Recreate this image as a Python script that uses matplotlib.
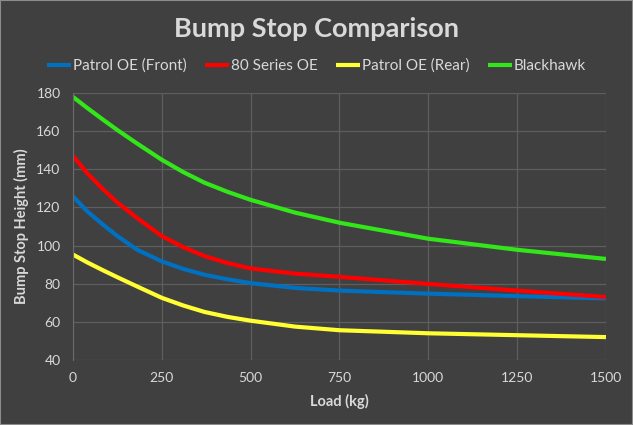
import matplotlib
matplotlib.use("Agg")
import matplotlib.pyplot as plt

# load points (kg)
load = [0, 40, 85, 125, 180, 250, 310, 370, 435, 500, 625, 750, 1000, 1250, 1500]

patrol_front = [125.8, 118.0, 110.9, 105.0, 97.9, 91.7, 87.8, 84.7, 82.3, 80.3, 77.8, 76.4, 74.8, 73.5, 72.3]
series_80    = [147.0, 138.0, 129.5, 122.6, 114.5, 105.0, 99.2, 94.5, 90.8, 88.0, 85.3, 83.6, 79.9, 76.4, 73.0]
patrol_rear  = [95.3, 91.2, 87.0, 83.4, 78.6, 72.6, 68.6, 65.2, 62.6, 60.6, 57.5, 55.6, 54.0, 53.0, 52.0]
blackhawk    = [178.0, 172.2, 166.0, 160.6, 153.6, 145.0, 138.6, 133.0, 128.2, 124.0, 117.3, 112.0, 103.6, 97.8, 93.0]

series_names  = ["Patrol OE (Front)", "80 Series OE", "Patrol OE (Rear)", "Blackhawk"]
series_colors = ["#0070C0", "#FF0000", "#FFFF33", "#33E61A"]

BG   = "#404040"
TXT  = "#D9D9D9"
GRID = "#5E5E5E"

plt.rcParams["font.family"] = ["Lato", "DejaVu Sans"]

fig = plt.figure(figsize=(6.33, 4.25), dpi=100, facecolor=BG)
ax = fig.add_axes([0.1153, 0.153, 0.842, 0.628], facecolor=BG)

lines = []
for vals, name, col in zip([patrol_front, series_80, patrol_rear, blackhawk],
                           series_names, series_colors):
    ln, = ax.plot(load, vals, color=col, lw=3, label=name,
                  solid_capstyle="butt", solid_joinstyle="round")
    lines.append(ln)

ax.set_xlim(0, 1500)
ax.set_ylim(40, 180)
ax.set_xticks([0, 250, 500, 750, 1000, 1250, 1500])
ax.set_yticks(range(40, 181, 20))
ax.grid(True, color=GRID, lw=0.9)
ax.set_axisbelow(True)
for s in ["top", "right", "bottom"]:
    ax.spines[s].set_visible(False)
ax.spines["left"].set_color("#6A6A6A")
ax.tick_params(length=0, colors=TXT, labelsize=10, pad=9)

ax.set_xlabel("Load (kg)", color=TXT, fontsize=10.5, fontweight="bold", labelpad=7)
ax.set_ylabel("Bump Stop Height (mm)", color=TXT, fontsize=10.5, fontweight="bold", labelpad=5)

fig.text(0.5, 0.912, "Bump Stop Comparison", ha="center", va="baseline",
         color=TXT, fontsize=19.5, fontweight="bold")
fig.legend(handles=lines, loc="center", bbox_to_anchor=(0.5, 0.845), ncol=4,
           frameon=False, fontsize=11, labelcolor=TXT, handlelength=1.57,
           handletextpad=0.12, columnspacing=1.2)

# thin light border around the chart area
fig.patches.append(plt.Rectangle((0, 0), 1, 1, transform=fig.transFigure,
                                 fill=False, edgecolor="#8C8C8C", lw=1.5))

fig.savefig("out.png", dpi=100, facecolor=BG)
